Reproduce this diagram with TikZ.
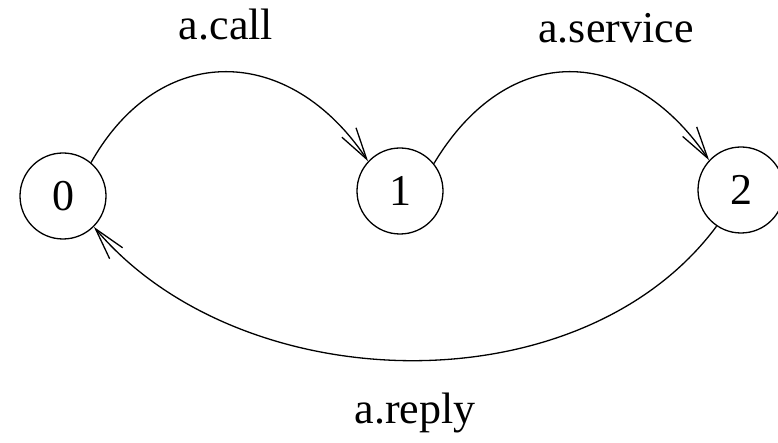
\documentclass[tikz,border=0pt]{standalone}
\usepackage{fontspec}
\setmainfont{Liberation Serif}
\usetikzlibrary{arrows.meta}
\begin{document}
\begin{tikzpicture}[x=1pt,y=-1pt,
  state/.style={circle,draw,line width=1.3pt,minimum size=86pt,inner sep=0pt,font=\fontsize{44}{50}\selectfont},
  lbl/.style={anchor=base,inner sep=0pt,font=\fontsize{44}{50}\selectfont},
  edge/.style={line width=1.3pt,-{Straight Barb[length=32pt,width=17pt,line width=1.3pt]}}]
\useasboundingbox (0,0) rectangle (778,443);
\node[state] (n0) at (63,196) {0};
\node[state] (n1) at (400,191) {1};
\node[state] (n2) at (741,190) {2};
\draw[edge] (n0.50) .. controls (160,40) and (290,44) .. (n1.137);
\draw[edge] (n1.39) .. controls (508,40) and (630,44) .. (n2.137);
\draw[edge] (n2.-124) .. controls (580,410) and (240,400) .. (n0.-45);
\node[lbl] (l01) at (226,40) {a.call};
\node[lbl] (l12) at (616,43) {a.service};
\node[lbl] (l20) at (415,423) {a.reply};
\end{tikzpicture}
\end{document}
